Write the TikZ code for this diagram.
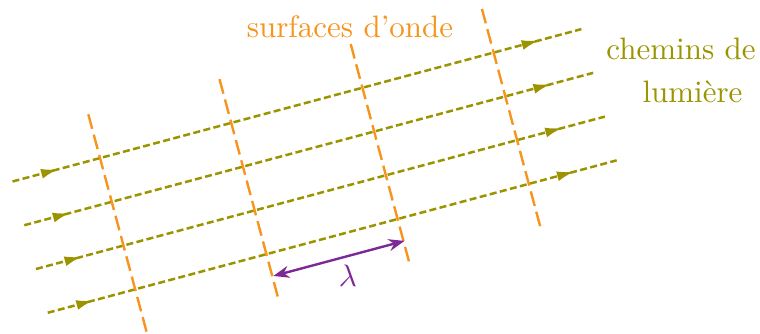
\documentclass[tikz,border=0pt]{standalone}
\usetikzlibrary{arrows.meta,decorations.markings,calc}
\definecolor{rayc}{RGB}{155,148,0}
\definecolor{wavec}{RGB}{247,148,30}
\definecolor{lamc}{RGB}{125,40,150}
\begin{document}
\begin{tikzpicture}[x=1pt,y=-1pt,
  ray/.style={rayc,line width=2.5pt,dash pattern=on 7pt off 3.4pt,
    postaction={decorate},
    decoration={markings,
      mark=at position 0.08 with {\arrow{Latex[length=17pt,width=10pt]}},
      mark=at position 0.925 with {\arrow{Latex[length=17pt,width=10pt]}}}},
  wave/.style={wavec,line width=2.4pt,dash pattern=on 15pt off 6pt},
  lam/.style={lamc,line width=2.4pt,{Stealth[length=16pt,width=12pt]}-{Stealth[length=16pt,width=12pt]}},
  txt/.style={scale=3.1,inner sep=0pt,anchor=base}]
\useasboundingbox (0,0) rectangle (760,334);
% light paths
\foreach \i in {0,1,2,3}{
  \coordinate (s\i) at ({12.5+11.75*\i},{181.5+43.75*\i});
  \coordinate (e\i) at ($(s\i)+(568.9,-152.4)$);
  \draw[ray] (s\i) -- (e\i);
}
% wave surfaces
\foreach \j in {0,1,2,3}{
  \coordinate (t\j) at ({88.3+131.2*\j},{114.3-35.15*\j});
  \coordinate (b\j) at ($(t\j)+(59,220.2)$);
  \draw[wave] (t\j) -- (b\j);
}
% wavelength
\coordinate (l1) at (273.3,276);
\coordinate (l2) at ($(l1)+(131.2,-35.1)$);
\draw[lam] (l1) -- (l2);
\node[txt,lamc,anchor=center] (lambda) at (348,276) {$\lambda$};
% labels
\node[txt,wavec] (surf) at (350,38) {surfaces d’onde};
\node[txt,rayc] (chem1) at (681,60) {chemins de};
\node[txt,rayc] (chem2) at (692.5,103) {lumière};
\end{tikzpicture}
\end{document}
